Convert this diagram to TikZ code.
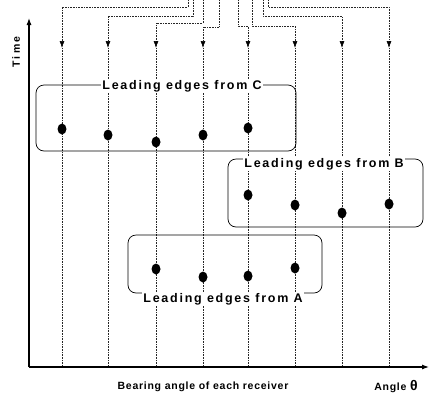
\documentclass[tikz,border=0pt]{standalone}
\usepackage{fontspec}
\setmainfont{Liberation Sans}
\usetikzlibrary{arrows.meta,shapes.geometric}
\tikzset{
  wire/.style={densely dotted,line width=0.6pt,black!85},
  ax/.style={line width=1.1pt,-{Latex[length=7pt,width=5pt]}},
  grp/.style={draw,rounded corners=8pt,line width=0.7pt},
  lbl/.style={fill=white,inner sep=1pt,font=\bfseries\fontsize{12.5}{14}\selectfont\addfontfeature{LetterSpace=14}},
  axl/.style={font=\bfseries\fontsize{10.5}{12}\selectfont\addfontfeature{LetterSpace=7},inner sep=0pt},
  edg/.style={ellipse,fill=black,inner sep=0pt,minimum width=9pt,minimum height=11pt},
}
\begin{document}
\begin{tikzpicture}[x=1pt,y=-1pt]
  \useasboundingbox (0,0) rectangle (430,394);
  % receivers: column, entry point at the top
  \foreach \i/\cx/\tx/\ty in {1/62/188/7,2/108/193/16,3/156/203/23,4/203/219/27,
                              5/248/238/26,6/295/252/26,7/342/263/16,8/389/268/7}{
    \coordinate (t\i) at (\tx,0);
    \coordinate (a\i) at (\cx,48);
    \coordinate (r\i) at (\cx,367);
    \draw[wire,-{Latex[length=7pt,width=5pt,black]}] (t\i) -- ++(0,\ty) -| (a\i);
    \draw[wire] (a\i) -- (r\i);
  }
  % axes
  \coordinate (o) at (29,367);
  \coordinate (ytop) at (29,18);
  \coordinate (xend) at (429,367);
  \draw[ax] (o) -- (ytop);
  \draw[ax] (o) -- (xend);
  \node[axl,rotate=90,font=\bfseries\fontsize{10.5}{12}\selectfont\addfontfeature{LetterSpace=22}] (tm) at (16,52) {Time};
  \node[axl,anchor=base] (bl) at (203,389) {Bearing angle of each receiver};
  \node[axl,anchor=base] (an) at (396,390) {Angle {\fontsize{14}{14}\selectfont θ}};
  % groups
  \draw[grp] (36,85) rectangle (296,151);
  \draw[grp] (228,159) rectangle (423,227);
  \draw[grp] (128,235) rectangle (322,293);
  \node[lbl] (lc) at (182,86) {Leading edges from C};
  \node[lbl] (lb) at (324,164) {Leading edges from B};
  \node[lbl] (la) at (223,299) {Leading edges from A};
  % leading edges
  \foreach \n/\x/\y in {c1/62/129,c2/108/135,c3/156/142,c4/203/135,c5/248/128,
                        b1/248/195,b2/295/205,b3/342/213,b4/389/204,
                        a1/156/269,a2/203/277,a3/248/276,a4/295/268}
    \node[edg] (e\n) at (\x,\y) {};
\end{tikzpicture}
\end{document}
